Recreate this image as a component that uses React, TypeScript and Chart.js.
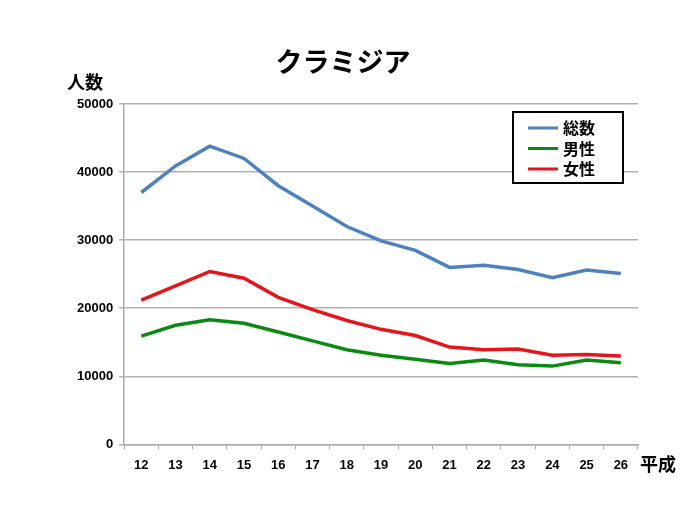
import React, { useEffect, useRef } from "react";
import { Chart, registerables } from "chart.js";

Chart.register(...registerables);

const categories = ["12", "13", "14", "15", "16", "17", "18", "19", "20", "21", "22", "23", "24", "25", "26"];
const totalValues = [37000, 40900, 43800, 42000, 38000, 35000, 32000, 29900, 28500, 26000, 26300, 25700, 24500, 25600, 25100];
const maleValues = [15900, 17500, 18300, 17800, 16500, 15200, 13900, 13100, 12500, 11900, 12400, 11700, 11500, 12400, 12000];
const femaleValues = [21200, 23300, 25400, 24400, 21600, 19800, 18200, 16900, 16000, 14300, 13900, 14000, 13100, 13200, 13000];
const seriesNames = ["総数", "男性", "女性"];
const titleText = "クラミジア";
const yAxisLabel = "人数";
const xAxisLabel = "平成";

const FONT = "'Liberation Sans', 'Noto Sans CJK JP', sans-serif";
const JFONT = "'Noto Sans CJK JP', 'Liberation Sans', sans-serif";

const extrasPlugin = {
  id: "extras",
  afterDraw(chart: any) {
    const ctx = chart.ctx;
    const area = chart.chartArea;
    ctx.save();
    ctx.fillStyle = "#000";
    ctx.font = `bold 27px ${JFONT}`;
    ctx.textAlign = "center";
    ctx.textBaseline = "middle";
    ctx.fillText(titleText, 343, 62);

    ctx.font = `bold 18px ${JFONT}`;
    ctx.textBaseline = "middle";
    ctx.textAlign = "left";
    ctx.fillText(yAxisLabel, 67, 82);
    ctx.fillText(xAxisLabel, area.right + 2, 464);

    const bx = 513, by = 112, bw = 110, bh = 71;
    ctx.lineWidth = 2;
    ctx.strokeStyle = "#000";
    ctx.fillStyle = "#fff";
    ctx.fillRect(bx, by, bw, bh);
    ctx.strokeRect(bx, by, bw, bh);
    chart.data.datasets.forEach((ds: any, i: number) => {
      const y = by + 16 + i * 20.5;
      ctx.strokeStyle = ds.borderColor;
      ctx.lineWidth = 3;
      ctx.beginPath();
      ctx.moveTo(bx + 15, y);
      ctx.lineTo(bx + 45, y);
      ctx.stroke();
      ctx.fillStyle = "#000";
      ctx.font = `bold 16px ${JFONT}`;
      ctx.textAlign = "left";
      ctx.textBaseline = "middle";
      ctx.fillText(ds.label, bx + 50, y);
    });
    ctx.restore();
  },
};

export default function App() {
  const canvasRef = useRef<HTMLCanvasElement | null>(null);

  useEffect(() => {
    if (!canvasRef.current) return;
    const chart = new Chart(canvasRef.current, {
      type: "line",
      data: {
        labels: categories,
        datasets: [
          { label: seriesNames[0], data: totalValues, borderColor: "#4f81bd", backgroundColor: "#4f81bd" },
          { label: seriesNames[1], data: maleValues, borderColor: "#0b8a12", backgroundColor: "#0b8a12" },
          { label: seriesNames[2], data: femaleValues, borderColor: "#e4161b", backgroundColor: "#e4161b" },
        ].map((d) => ({ ...d, borderWidth: 3.5, pointRadius: 0, tension: 0, fill: false })),
      },
      options: {
        animation: false,
        responsive: false,
        maintainAspectRatio: false,
        layout: { padding: { left: 71, right: 62, top: 104, bottom: 44 } },
        plugins: {
          legend: { display: false },
          tooltip: { enabled: false },
          title: { display: false },
        },
        scales: {
          x: {
            offset: true,
            grid: {
              display: true,
              offset: true,
              drawOnChartArea: false,
              drawTicks: true,
              tickLength: 5,
              color: "#aaaaaa",
            },
            border: { color: "#aaaaaa", width: 1.5 },
            ticks: {
              color: "#000",
              font: { family: FONT, size: 13, weight: "bold" },
              padding: 8,
              maxRotation: 0,
              autoSkip: false,
            },
          },
          y: {
            min: 0,
            max: 50000,
            grid: { color: "#b0b0b0", lineWidth: 1.5, drawTicks: true, tickLength: 5 },
            border: { color: "#aaaaaa", width: 1.5 },
            ticks: {
              stepSize: 10000,
              color: "#000",
              font: { family: FONT, size: 13, weight: "bold" },
              padding: 6,
              callback: (v: any) => String(v),
            },
          },
        },
      },
      plugins: [extrasPlugin],
    });
    return () => chart.destroy();
  }, []);

  return (
    <div style={{ position: "fixed", left: 0, top: 0, width: 700, height: 525, background: "#fff" }}>
      <canvas ref={canvasRef} width={700} height={525} style={{ width: 700, height: 525 }} />
    </div>
  );
}
